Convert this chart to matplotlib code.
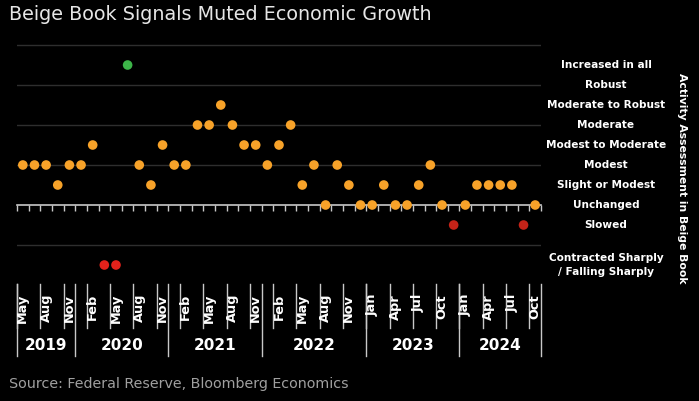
import numpy as np
import matplotlib.pyplot as plt
from matplotlib import transforms

# activity level of each Beige Book (0 = Unchanged)
levels = [2, 2, 2, 1, 2, 2, 3, -3, -3, 7,
          2, 1, 3, 2, 2, 4, 4, 5, 4, 3,
          3, 2, 3, 4, 1, 2, 0, 2, 1, 0,
          0, 1, 0, 0, 1, 2, 0, -1, 0, 1,
          1, 1, 1, -1, 0]

month_labels = ["May", "Aug", "Nov",
                "Feb", "May", "Aug", "Nov",
                "Feb", "May", "Aug", "Nov",
                "Feb", "May", "Aug", "Nov",
                "Jan", "Apr", "Jul", "Oct",
                "Jan", "Apr", "Jul", "Oct"]
years = ["2019", "2020", "2021", "2022", "2023", "2024"]
year_sizes = [5, 8, 8, 9, 8, 7]

scale_values = [7, 6, 5, 4, 3, 2, 1, 0, -1, -3]
scale_labels = ["Increased in all", "Robust", "Moderate to Robust", "Moderate",
                "Modest to Moderate", "Modest", "Slight or Modest", "Unchanged",
                "Slowed", "Contracted Sharply\n/ Falling Sharply"]

W, H = 699, 401


def fx(px):
    return px / W


def fy(py):
    return 1 - py / H


def dot_color(v):
    if v >= 7:
        return '#3DB549'
    if v <= -3:
        return '#E4221B'
    if v < 0:
        return '#C42318'
    return '#F7A229'


fig = plt.figure(figsize=(W / 100, H / 100), dpi=100, facecolor='black')
ax = fig.add_axes([fx(17), fy(286), fx(524), (286 - 43) / H])
ax.set_facecolor('black')

x = np.arange(len(levels))
ax.set_xlim(-0.5, len(levels) - 0.5)
ax.set_ylim(-4.05, 8.1)

for s in ['top', 'left', 'right']:
    ax.spines[s].set_visible(False)
ax.spines['bottom'].set_position(('data', 0))
ax.spines['bottom'].set_color('#C8C8C8')
ax.spines['bottom'].set_linewidth(1.2)
ax.set_xticks(np.arange(len(levels) + 1) - 0.5)
ax.tick_params(axis='x', direction='out', length=4, width=1, color='#C8C8C8',
               labelbottom=False)
ax.set_yticks([-2, 2, 4, 6, 8])
ax.tick_params(axis='y', length=0, labelleft=False)
ax.grid(axis='y', color='#2E2E2E', linewidth=1)
ax.set_axisbelow(True)

ax.scatter(x, levels, s=48, c=[dot_color(v) for v in levels], zorder=3,
           edgecolors='none', clip_on=False)

# right-hand scale labels
rt = transforms.blended_transform_factory(fig.transFigure, ax.transData)
for v, lab in zip(scale_values, scale_labels):
    ax.text(fx(606), v, lab, transform=rt, ha='center', va='center',
            color='white', fontsize=7.6, fontweight='bold', linespacing=1.45)
fig.text(fx(682), fy(178), "Activity Assessment in Beige Book", rotation=-90,
         ha='center', va='center', color='white', fontsize=7.8, fontweight='bold')

# month and year labels under the chart
bt = transforms.blended_transform_factory(ax.transData, fig.transFigure)
for i, lab in enumerate(month_labels):
    pos = 2 * i
    ax.text(pos, fy(294), lab, transform=bt, rotation=90, ha='center', va='top',
            color='white', fontsize=9.3, fontweight='bold')
    ax.plot([pos - 0.5, pos - 0.5], [fy(284), fy(328)], transform=bt,
            color='#C8C8C8', lw=1, clip_on=False)

edges = np.concatenate([[0], np.cumsum(year_sizes)]) - 0.5
for e in edges:
    ax.plot([e, e], [fy(284), fy(356)], transform=bt, color='#C8C8C8', lw=1,
            clip_on=False)
for yr, a, b in zip(years, edges[:-1], edges[1:]):
    ax.text((a + b) / 2, fy(345), yr, transform=bt, ha='center', va='center',
            color='white', fontsize=11, fontweight='bold')

fig.text(fx(9), fy(15), "Beige Book Signals Muted Economic Growth",
         ha='left', va='center', color='#E6E6E6', fontsize=13.8)
fig.text(fx(9), fy(384), "Source: Federal Reserve, Bloomberg Economics",
         ha='left', va='center', color='#A0A0A0', fontsize=10.3)

fig.savefig('out.png', dpi=100, facecolor='black')
